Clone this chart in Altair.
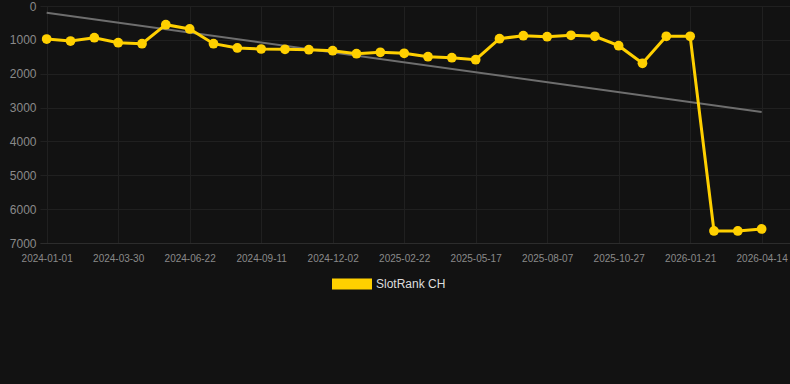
import altair as alt
import pandas as pd

dates = ["2024-01-01", "2024-01-30", "2024-02-28", "2024-03-30", "2024-04-27", "2024-05-25",
         "2024-06-22", "2024-07-19", "2024-08-15", "2024-09-11", "2024-10-08", "2024-11-05",
         "2024-12-02", "2024-12-29", "2025-01-25", "2025-02-22", "2025-03-21", "2025-04-19",
         "2025-05-17", "2025-06-13", "2025-07-10", "2025-08-07", "2025-09-03", "2025-09-30",
         "2025-10-27", "2025-11-24", "2025-12-23", "2026-01-21", "2026-02-17", "2026-03-17",
         "2026-04-14"]
ranks = [975, 1034, 936, 1084, 1113, 552, 679, 1113, 1240, 1270, 1279, 1291, 1320, 1409,
         1367, 1397, 1497, 1527, 1586, 966, 877, 907, 865, 895, 1172, 1692, 895, 895,
         6645, 6645, 6586]
tick_labels = ["2024-01-01", "2024-03-30", "2024-06-22", "2024-09-11", "2024-12-02",
               "2025-02-22", "2025-05-17", "2025-08-07", "2025-10-27", "2026-01-21",
               "2026-04-14"]
y_ticks = [0, 1000, 2000, 3000, 4000, 5000, 6000, 7000]
trend_dates = ["2024-01-01", "2026-04-14"]
trend_values = [200, 3130]
series_name = "SlotRank CH"

df = pd.DataFrame({"idx": list(range(len(dates))), "date": dates, "rank": ranks,
                   "series": series_name})
tdf = pd.DataFrame({"idx": [dates.index(d) for d in trend_dates], "rank": trend_values})

label_array = "[" + ",".join("'" + d + "'" for d in dates) + "]"

xscale = alt.Scale(domain=[-0.28, 31.19], nice=False, zero=False)
yscale = alt.Scale(domain=[0, 7000], reverse=True, nice=False)

xaxis = alt.Axis(values=[dates.index(d) for d in tick_labels], title=None, labelAngle=0,
                 labelExpr=label_array + "[datum.value]",
                 labelColor="#8a8a8a", labelFontSize=10, labelFont="Liberation Sans",
                 grid=True, gridColor="#202020", domain=True, domainColor="#2c2c2c",
                 ticks=False, labelPadding=10)
yaxis = alt.Axis(values=y_ticks, title=None, format="d",
                 labelColor="#8a8a8a", labelFontSize=12, labelFont="Liberation Sans",
                 grid=True, gridColor="#202020", domain=False, ticks=False, labelPadding=4)

X = alt.X("idx:Q", scale=xscale, axis=xaxis)
Y = alt.Y("rank:Q", scale=yscale, axis=yaxis)

trend = alt.Chart(tdf).mark_line(color="#6e6e6e", strokeWidth=2).encode(x=X, y=Y)

legend = alt.Legend(title=None, orient="none", legendX=292, legendY=258,
                    symbolType="M-1,-0.28L1,-0.28L1,0.28L-1,0.28Z", symbolSize=1600,
                    symbolStrokeWidth=0, symbolFillColor="#ffd000",
                    labelColor="#dddddd", labelFontSize=12,
                    labelFont="Liberation Sans", symbolOpacity=1)

line = alt.Chart(df).mark_line(strokeWidth=3, color="#ffd000").encode(x=X, y=Y)
points = alt.Chart(df).mark_circle(size=95, opacity=1).encode(
    x=X, y=Y,
    color=alt.Color("series:N", scale=alt.Scale(domain=[series_name], range=["#ffd000"]),
                    legend=legend),
)

chart = alt.layer(trend, line, points).properties(
    width=750, height=237,
    background="#121212",
    padding={"left": 40, "top": 6, "right": 0, "bottom": 141},
    autosize=alt.AutoSizeParams(type="none"),
).configure_view(stroke=None)

chart.save("out.html", embed_options={"renderer": "svg", "actions": False})
